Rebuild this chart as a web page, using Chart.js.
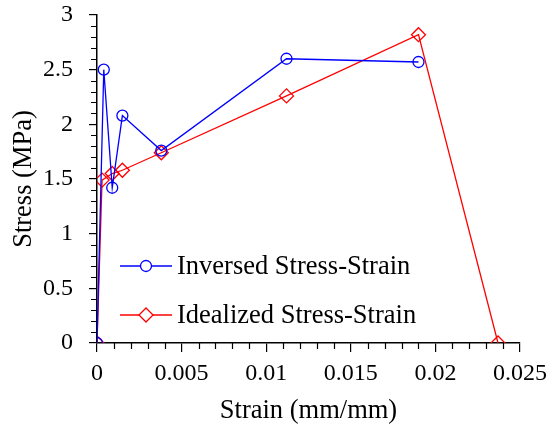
<!DOCTYPE html>
<html>
<head>
<meta charset="utf-8">
<script src="https://cdn.jsdelivr.net/npm/chart.js@4/dist/chart.umd.min.js"></script>
<style>
  html, body { margin: 0; padding: 0; background: #fff; }
  #wrap { width: 554px; height: 432px; position: relative; }
</style>
</head>
<body>
<div id="wrap"><canvas id="stressChart"></canvas></div>
<script>
// values
const strainInv = [0, 0.0004, 0.0009, 0.0015, 0.0038, 0.0112, 0.019];
const stressInv = [0, 2.50, 1.42, 2.08, 1.76, 2.60, 2.57];
const strainIdeal = [0, 0.0003, 0.0009, 0.0015, 0.0038, 0.0112, 0.019, 0.0237];
const stressIdeal = [0, 1.49, 1.55, 1.58, 1.74, 2.26, 2.82, 0];
const seriesNames = ["Inversed Stress-Strain", "Idealized Stress-Strain"];

const serif = "'Liberation Serif', 'Times New Roman', serif";

const toPoints = (xs, ys) => xs.map((x, i) => ({ x, y: ys[i] }));

// minor ticks + legend drawn inside the plot
const extras = {
  id: "extras",
  afterDraw(chart) {
    const ctx = chart.ctx;
    const xs = chart.scales.x, ys = chart.scales.y;
    const area = chart.chartArea;
    ctx.save();
    ctx.strokeStyle = "#000";
    ctx.lineWidth = 1.2;
    ctx.beginPath();
    for (let i = 0; i <= 30; i++) {
      if (i % 5 === 0) continue;
      const py = Math.round(ys.getPixelForValue(i / 10)) + 0.5;
      ctx.moveTo(area.left - 6, py);
      ctx.lineTo(area.left, py);
    }
    for (let i = 0; i <= 25; i++) {
      if (i % 5 === 0) continue;
      const px = Math.round(xs.getPixelForValue(i / 1000)) + 0.5;
      ctx.moveTo(px, area.bottom);
      ctx.lineTo(px, area.bottom + 6);
    }
    ctx.stroke();

    // legend
    const rows = [area.top + 251, area.top + 300];
    chart.data.datasets.forEach((ds, k) => {
      const y = rows[k];
      const x0 = area.left + 23, x1 = area.left + 75, xm = (x0 + x1) / 2;
      ctx.strokeStyle = ds.borderColor;
      ctx.lineWidth = 1.3;
      ctx.beginPath();
      ctx.moveTo(x0, y);
      ctx.lineTo(x1, y);
      ctx.stroke();
      ctx.beginPath();
      if (ds.pointStyle === "circle") {
        ctx.arc(xm, y, ds.pointRadius, 0, Math.PI * 2);
      } else {
        const r = ds.pointRadius;
        ctx.moveTo(xm, y - r); ctx.lineTo(xm + r, y);
        ctx.lineTo(xm, y + r); ctx.lineTo(xm - r, y);
        ctx.closePath();
      }
      ctx.fillStyle = "#fff";
      ctx.fill();
      ctx.stroke();
      ctx.fillStyle = "#000";
      ctx.font = "26.5px " + serif;
      ctx.textBaseline = "middle";
      ctx.fillText(ds.label, x1 + 5, y + 1);
    });
    ctx.restore();
  }
};

const fmt = (v) => String(parseFloat(Number(v).toFixed(4)));

new Chart(document.getElementById("stressChart"), {
  type: "line",
  data: {
    datasets: [
      {
        label: seriesNames[0],
        data: toPoints(strainInv, stressInv),
        borderColor: "#0000ff",
        backgroundColor: "transparent",
        borderWidth: 1.3,
        pointStyle: "circle",
        pointRadius: 5.5,
        pointBorderWidth: 1.3,
        tension: 0,
      },
      {
        label: seriesNames[1],
        data: toPoints(strainIdeal, stressIdeal),
        borderColor: "#ff0000",
        backgroundColor: "transparent",
        borderWidth: 1.3,
        pointStyle: "rectRot",
        pointRadius: 7,
        pointBorderWidth: 1.3,
        tension: 0,
      },
    ],
  },
  options: {
    responsive: true,
    maintainAspectRatio: false,
    animation: false,
    layout: { padding: { top: 0, right: 30, left: 0, bottom: 0 } },
    plugins: {
      legend: { display: false },
      tooltip: { enabled: false },
    },
    scales: {
      x: {
        type: "linear",
        min: 0,
        max: 0.025,
        afterFit: (s) => { s.height = 89; },
        border: { display: true, color: "#000", width: 1.5 },
        grid: { display: true, drawOnChartArea: false, drawTicks: true, tickLength: 9, color: "#000", lineWidth: 1.2 },
        ticks: {
          stepSize: 0.005,
          color: "#000",
          font: { family: serif, size: 24 },
          padding: 7,
          maxRotation: 0,
          callback: fmt,
        },
        title: {
          display: true,
          text: "Strain (mm/mm)",
          color: "#000",
          font: { family: serif, size: 26.5 },
          padding: { top: 2, bottom: 5 },
        },
      },
      y: {
        min: 0,
        max: 3,
        afterFit: (s) => { s.width = 97; s.paddingTop = 15; },
        border: { display: true, color: "#000", width: 1.5 },
        grid: { display: true, drawOnChartArea: false, drawTicks: true, tickLength: 8, color: "#000", lineWidth: 1.2 },
        ticks: {
          stepSize: 0.5,
          color: "#000",
          font: { family: serif, size: 24 },
          padding: 16,
          callback: fmt,
        },
        title: {
          display: true,
          text: "Stress (MPa)",
          color: "#000",
          font: { family: serif, size: 26.5 },
          padding: { top: 8, bottom: 0 },
        },
      },
    },
  },
  plugins: [extras],
});
</script>
</body>
</html>
